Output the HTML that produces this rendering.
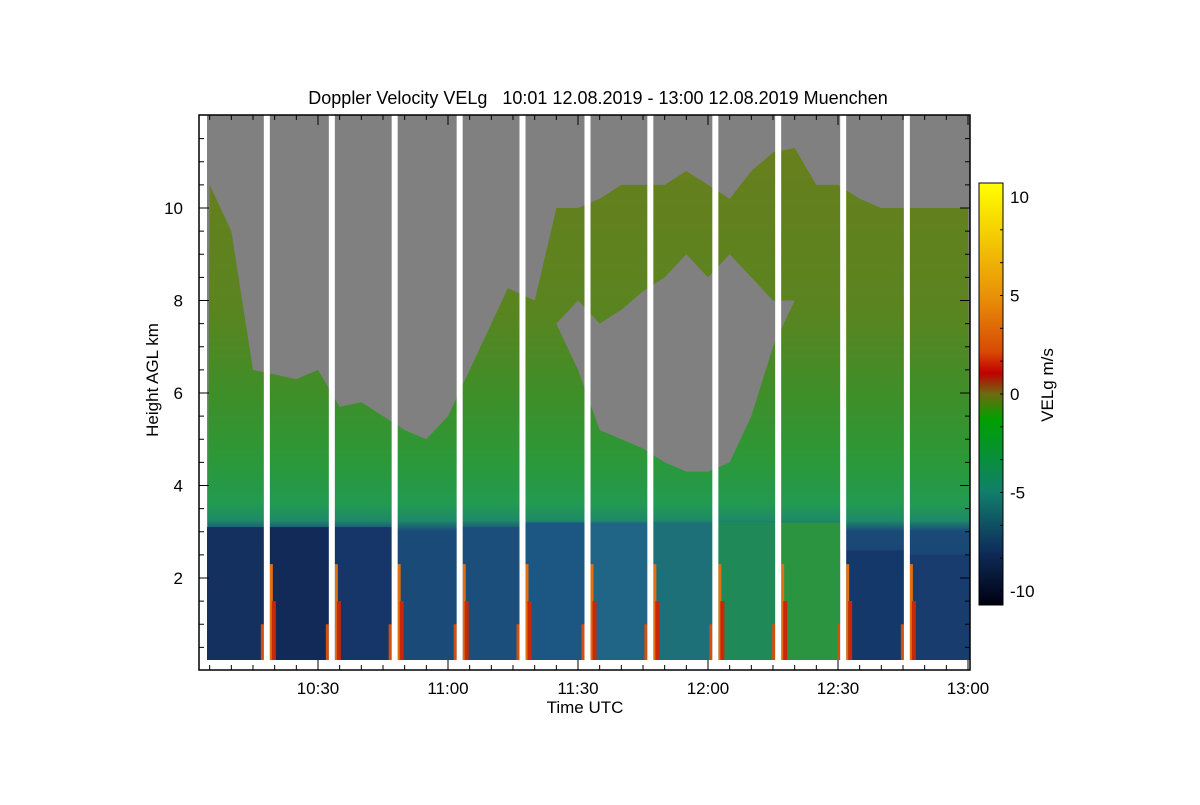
<!DOCTYPE html>
<html><head><meta charset="utf-8"><style>
body{margin:0;background:#fff;}
svg text{font-family:"Liberation Sans",sans-serif;}
</style></head><body>
<svg id="c" width="1200" height="800" viewBox="0 0 1200 800">
<defs>
<linearGradient id="cg" gradientUnits="userSpaceOnUse" x1="0" y1="115" x2="0" y2="670">
<stop offset="0" stop-color="#6a7e1c"/>
<stop offset="0.35" stop-color="#5a8420"/>
<stop offset="0.5" stop-color="#3f8e28"/>
<stop offset="0.62" stop-color="#2c9838"/>
<stop offset="0.7" stop-color="#229a50"/>
<stop offset="0.73" stop-color="#1e8a68"/>
<stop offset="0.75" stop-color="#1a4a78"/>
<stop offset="1" stop-color="#16356a"/>
</linearGradient>
<linearGradient id="cb" x1="0" y1="0" x2="0" y2="1">
<stop offset="0" stop-color="#ffff00"/>
<stop offset="0.27" stop-color="#e89008"/>
<stop offset="0.4" stop-color="#d84a04"/>
<stop offset="0.45" stop-color="#c00000"/>
<stop offset="0.5" stop-color="#6e6a10"/>
<stop offset="0.56" stop-color="#00a000"/>
<stop offset="0.73" stop-color="#10806a"/>
<stop offset="0.87" stop-color="#0e2e5c"/>
<stop offset="1" stop-color="#000010"/>
</linearGradient>
</defs>
<text x="598" y="104" font-size="18" text-anchor="middle" xml:space="preserve" style="white-space:pre">Doppler Velocity VELg   10:01 12.08.2019 - 13:00 12.08.2019 Muenchen</text>
<g id="plot"></g>
<rect x="979" y="183" width="24" height="422" fill="url(#cb)" stroke="#000"/>
<g id="cbt"></g>
<text transform="translate(1053,385) rotate(-90)" font-size="17" text-anchor="middle">VELg m/s</text>
<text transform="translate(158,380) rotate(-90)" font-size="17" text-anchor="middle">Height AGL km</text>
<text x="585" y="713" font-size="17" text-anchor="middle">Time UTC</text>
</svg>
<script>
const ns="http://www.w3.org/2000/svg";
const tMin=[5,10,15,20,25,30,35,40,45,50,55,60,65,70,75,80,85,90,95,100,105,110,115,120,125,130,135,140,145,150,155,160,165,170,175,180];
const cloudTop=[10.5,9.5,6.5,6.4,6.3,6.5,5.7,5.8,5.5,5.2,5.0,5.5,6.5,7.5,8.5,8.0,10,10,10.2,10.5,10.5,10.5,10.8,10.5,10.2,10.8,11.2,11.3,10.5,10.5,10.2,10,10,10,10,10];
const holeT=[85,90,95,100,105,110,115,120,125,130,135,140];
const holeBot=[7.5,6.5,5.2,5.0,4.8,4.5,4.3,4.3,4.5,5.5,7.0,8.0];
const holeTop=[7.5,8.0,7.5,7.8,8.2,8.5,9.0,8.5,9.0,8.5,8.0,8.0];
const gapT=[17.5,32.5,47,62,76.5,91.5,106,121,135.5,150.5,165.2];
const lowTop=[3.1,3.1,3.1,3.0,3.1,3.2,3.2,3.2,3.2,3.2,2.6,2.5];
const lowColor=["#14305e","#122a58","#16366a","#1a4a78","#1c4e7c","#1c5682","#206486","#1e7078","#1f8a58","#2a9440","#14386a","#183c6e"];
const yTicks=[2,4,6,8,10];
const xTicks=["10:30","11:00","11:30","12:00","12:30","13:00"];
const cbTicks=[10,5,0,-5,-10];
const X=t=>188+t*130/30, Y=h=>670.5-h*46.25, CB=v=>394-v*19.7;
const L=199,R=970,T=115,B=670;
const g=document.getElementById('plot');
function el(n,a,p){const e=document.createElementNS(ns,n);for(const k in a)e.setAttribute(k,a[k]);(p||g).appendChild(e);return e;}
let bg=el('rect',{x:207,y:T,width:R-207,height:B-T,fill:'#808080'});

let pts=[X(0)+19+','+Y(0)];
tMin.forEach((t,i)=>pts.push(Math.min(X(t),R)+','+Y(cloudTop[i])));
pts.push(R+','+Y(0));
let cl=el('polygon',{points:pts.join(' '),fill:'url(#cg)'});

const segEdges=[3.5].concat(gapT,[181]);
for(let i=0;i<12;i++){let x0=X(segEdges[i]),x1=Math.min(X(segEdges[i+1]),R);
 let r=el('rect',{x:x0,y:Y(lowTop[i]),width:x1-x0,height:Y(0)-Y(lowTop[i]),fill:lowColor[i]});
 }
let hp=[];holeT.forEach((t,i)=>hp.push(X(t)+','+Y(holeTop[i])));
for(let i=holeT.length-1;i>=0;i--)hp.push(X(holeT[i])+','+Y(holeBot[i]));
let ho=el('polygon',{points:hp.join(' '),fill:'#808080'});

let u=el('polygon',{points:[X(73)+','+Y(8.3),X(80)+','+Y(8.0),X(85)+','+Y(10),X(73)+','+Y(10)].join(' '),fill:'#808080'});

gapT.forEach(t=>{let x=X(t);
 let s0=el('rect',{x:x+6,y:Y(2.3),width:3,height:Y(0)-Y(2.3),fill:'#e07010'});
 
 let s=el('rect',{x:x+8,y:Y(1.5),width:4,height:Y(0)-Y(1.5),fill:'#c82808'});
 
 let s2=el('rect',{x:x-3,y:Y(1.0),width:3,height:Y(0)-Y(1.0),fill:'#d05010'});
 
 let w=el('rect',{x:x,y:T,width:6,height:B-T,fill:'#fff'});
 });
let bs=el('rect',{x:207,y:660,width:R-207,height:10,fill:'#fff'});

let ls=el('rect',{x:L,y:T,width:8,height:B-T,fill:'#fff'});

let fr=el('rect',{x:L,y:T,width:R-L,height:B-T,fill:'none',stroke:'#000','stroke-width':1.5});

for(let h=0.5;h<12;h+=0.5){let y=Y(h),len=(h%2===0)?10:5;
 el('line',{x1:L,x2:L+len,y1:y,y2:y,stroke:'#000'});el('line',{x1:R,x2:R-len,y1:y,y2:y,stroke:'#000'});}
yTicks.forEach(h=>{let t=el('text',{x:L-16,y:Y(h)+6,'font-size':17,'text-anchor':'end'});t.textContent=h;
 });
for(let m=5;m<=180;m+=5){let x=X(m),len=(m%30===0)?10:5;
 el('line',{x1:x,x2:x,y1:B,y2:B-len,stroke:'#000'});el('line',{x1:x,x2:x,y1:T,y2:T+len,stroke:'#000'});}
xTicks.forEach((s,i)=>{let t=el('text',{x:X(30*(i+1)),y:694,'font-size':17,'text-anchor':'middle'});t.textContent=s;
 });
const cb=document.getElementById('cbt');
for(let v=-10;v<=10;v+=1.6667){el('line',{x1:1003,x2:1000,y1:CB(v),y2:CB(v),stroke:'#000'},cb);}
cbTicks.forEach(v=>{let t=el('text',{x:1010,y:CB(v)+6,'font-size':17},cb);t.textContent=v;
 });
</script>
</body></html>
